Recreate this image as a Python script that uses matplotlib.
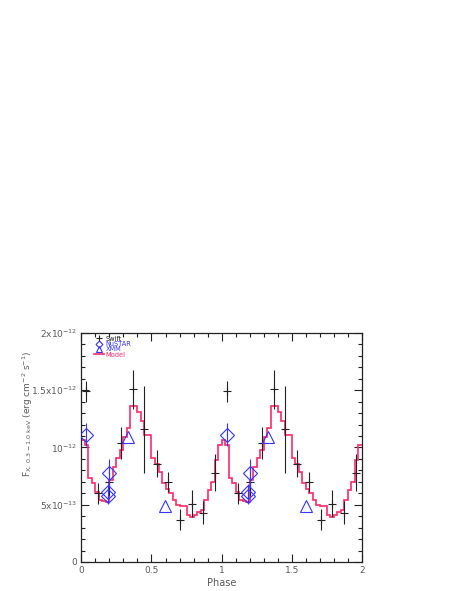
import numpy as np
import matplotlib
matplotlib.use("Agg")
import matplotlib.pyplot as plt
from matplotlib.lines import Line2D
from matplotlib.ticker import MultipleLocator, FixedLocator

# folded model, one cycle, 40 phase bins (units of 1e-12 erg/cm2/s)
model_cycle = [1.065, 1.02, 0.73, 0.69, 0.61, 0.54, 0.53, 0.52, 0.72, 0.83,
               0.91, 0.98, 1.09, 1.17, 1.36, 1.36, 1.31, 1.23, 1.11, 1.11,
               0.91, 0.86, 0.79, 0.69, 0.64, 0.60, 0.54, 0.50, 0.49, 0.49,
               0.41, 0.39, 0.41, 0.44, 0.45, 0.54, 0.63, 0.70, 0.89, 1.02]

swift_phase = [0.036, 0.12, 0.20, 0.286, 0.37, 0.45, 0.54, 0.62, 0.705, 0.79, 0.87, 0.955]
swift_flux = [1.49, 0.60, 0.70, 1.04, 1.51, 1.16, 0.86, 0.70, 0.37, 0.51, 0.43, 0.78]
swift_err = [0.09, 0.09, 0.12, 0.14, 0.17, 0.38, 0.12, 0.09, 0.09, 0.12, 0.10, 0.16]

nustar_phase = [0.036, 0.20, 0.188, 0.188]
nustar_flux = [1.11, 0.775, 0.61, 0.575]
nustar_err = [0.10, 0.12, 0.07, 0.07]

xmm_phase = [0.331, 0.598]
xmm_flux = [1.09, 0.49]

blue = '#3535ff'
red = '#ff2a68'
grey = '#5a5a5a'

fig = plt.figure(figsize=(4.57, 5.91), dpi=100)
ax = fig.add_axes([0.178, 0.0491, 0.614, 0.3875])

edges = np.linspace(0, 2, 2 * len(model_cycle) + 1)
model = np.array(model_cycle * 2) * 1e-12
ax.stairs(model, edges, baseline=None, color=red, lw=1.2, zorder=2)

for shift in (0, 1):
    ax.errorbar(np.array(swift_phase) + shift, np.array(swift_flux) * 1e-12,
                yerr=np.array(swift_err) * 1e-12, fmt='+', color='#222222',
                ms=6, mew=0.8, elinewidth=0.8, capsize=0, zorder=3)
    ax.errorbar(np.array(nustar_phase) + shift, np.array(nustar_flux) * 1e-12,
                yerr=np.array(nustar_err) * 1e-12, fmt='D', color=blue,
                mfc='none', ms=7, mew=0.8, elinewidth=0.8, capsize=0, zorder=4)
    ax.plot(np.array(xmm_phase) + shift, np.array(xmm_flux) * 1e-12, '^',
            color=blue, mfc='none', ms=8, mew=0.8, zorder=4)

ax.set_xlim(0, 2)
ax.set_ylim(0, 2e-12)

ax.xaxis.set_major_locator(FixedLocator([0, 0.5, 1, 1.5, 2]))
ax.xaxis.set_minor_locator(MultipleLocator(0.1))
ax.set_xticklabels(['0', '0.5', '1', '1.5', '2'])
ax.yaxis.set_major_locator(FixedLocator([0, 5e-13, 1e-12, 1.5e-12, 2e-12]))
ax.yaxis.set_minor_locator(MultipleLocator(1e-13))
ax.set_yticklabels(['0', r'5x10$^{-13}$', r'10$^{-12}$',
                    r'1.5x10$^{-12}$', r'2x10$^{-12}$'])

ax.tick_params(which='both', direction='in', top=True, right=True,
               color='#222222', labelsize=6.5, labelcolor=grey, pad=3)
ax.tick_params(which='major', length=6, width=0.8)
ax.tick_params(which='minor', length=3, width=0.8)
for s in ax.spines.values():
    s.set_linewidth(0.9)
    s.set_color('#222222')

ax.set_xlabel('Phase', fontsize=7, color=grey, labelpad=2)
ax.set_ylabel(r'F$_{\mathrm{X,\ 0.3-1.0\ keV}}$ (erg cm$^{-2}$ s$^{-1}$)',
              fontsize=6.5, color=grey)
ax.yaxis.set_label_coords(-0.165, 0.645)

handles = [
    Line2D([], [], color='#222222', marker='+', ls='none', ms=4.5, mew=0.8),
    Line2D([], [], color=blue, marker='D', mfc='none', ls='none', ms=3.5, mew=0.8),
    Line2D([], [], color=blue, marker='^', mfc='none', ls='none', ms=4, mew=0.8),
    Line2D([], [], color=red, lw=1.2),
]
leg = ax.legend(handles, ['Swift', 'NuSTAR', 'XMM', 'Model'], loc='upper left',
                bbox_to_anchor=(0.035, 1.0), frameon=False, fontsize=4.8,
                handlelength=1.5, handletextpad=0.3, labelspacing=-0.1,
                borderaxespad=0)
for txt, c in zip(leg.get_texts(), ['#222222', blue, blue, red]):
    txt.set_color(c)

fig.savefig('out.png', dpi=100)
